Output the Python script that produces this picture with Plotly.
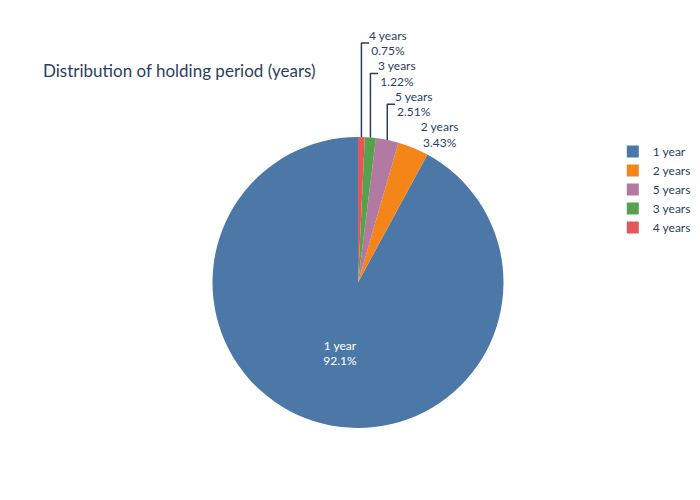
import plotly.graph_objects as go

periods = ["1 year", "2 years", "5 years", "3 years", "4 years"]
shares = [92.1, 3.43, 2.51, 1.22, 0.75]
colors = ["#4c78a8", "#f58518", "#b279a2", "#54a24b", "#e45756"]

small = sum(shares[1:]) / sum(shares) * 360

fig = go.Figure(go.Pie(
    labels=periods,
    values=shares,
    marker_colors=colors,
    textinfo="label+percent",
    rotation=small,
    direction="counterclockwise",
))

fig.update_layout(
    title=dict(text="Distribution of holding period (years)", x=0.05, y=0.885),
    font=dict(family="Lato", color="#2a3f5f"),
    margin=dict(t=129, b=80),
    width=700,
    height=500,
)

fig.write_html("out.html")
